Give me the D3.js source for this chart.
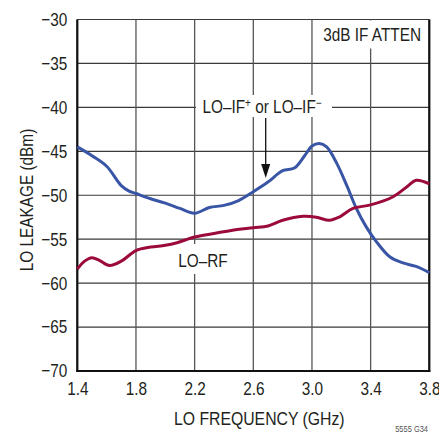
<!DOCTYPE html>
<html><head><meta charset="utf-8">
<script src="https://cdn.jsdelivr.net/npm/d3@7"></script>
<style>
html,body{margin:0;padding:0;background:#fff;}
svg text{font-family:"Liberation Sans Narrow","Arial Narrow","Liberation Sans",Arial,sans-serif;fill:#231f20;}
</style></head>
<body><svg id="c" width="439" height="435"></svg>
<script>
// ---- data ----
const xTicks = [1.4, 1.8, 2.2, 2.6, 3.0, 3.4, 3.8];
const xTickLabels = ["1.4", "1.8", "2.2", "2.6", "3.0", "3.4", "3.8"];
const yTicks = [-30, -35, -40, -45, -50, -55, -60, -65, -70];
const yTickLabels = ["\u221230", "\u221235", "\u221240", "\u221245", "\u221250", "\u221255", "\u221260", "\u221265", "\u221270"];

const ifFreq = [1.40, 1.50, 1.60, 1.70, 1.75, 1.80, 1.90, 2.00, 2.10, 2.20, 2.30, 2.40, 2.50, 2.60, 2.70, 2.80, 2.88, 2.95, 3.00, 3.05, 3.10, 3.17, 3.24, 3.30, 3.37, 3.44, 3.53, 3.62, 3.71, 3.80];
const ifLeak = [-44.5, -45.5, -46.7, -48.9, -49.5, -49.8, -50.4, -50.9, -51.5, -52.05, -51.4, -51.15, -50.6, -49.6, -48.5, -47.2, -46.9, -45.5, -44.4, -44.1, -44.5, -46.4, -49.0, -51.4, -53.6, -55.3, -57.0, -57.7, -58.1, -58.8];

const rfFreq = [1.40, 1.45, 1.50, 1.55, 1.62, 1.70, 1.80, 1.90, 2.00, 2.08, 2.20, 2.35, 2.45, 2.60, 2.70, 2.80, 2.94, 3.03, 3.12, 3.19, 3.28, 3.40, 3.55, 3.65, 3.71, 3.80];
const rfLeak = [-58.4, -57.5, -57.1, -57.4, -58.0, -57.5, -56.3, -55.9, -55.7, -55.4, -54.75, -54.3, -54.0, -53.7, -53.5, -52.85, -52.4, -52.5, -52.85, -52.45, -51.5, -51.1, -50.2, -49.0, -48.3, -48.7];

const xTitle = "LO FREQUENCY (GHz)";
const yTitle = "LO LEAKAGE (dBm)";

// ---- layout ----
const svg = d3.select("#c");
const L = 77.3, R = 429.3, T = 19.5, B = 371;
const x = d3.scaleLinear().domain([1.4, 3.8]).range([L, R]);
const y = d3.scaleLinear().domain([-70, -30]).range([B, T]);
const SQ = 0.83; // horizontal condensing to mimic a narrow typeface

// grid
const g = svg.append("g");
g.selectAll(".hg").data(yTicks).join("line")
  .attr("x1", L).attr("x2", R).attr("y1", d => y(d)).attr("y2", d => y(d))
  .attr("stroke", "#3a3a3a").attr("stroke-width", 1.2);
g.selectAll(".vg").data(xTicks).join("line")
  .attr("y1", T).attr("y2", B).attr("x1", d => x(d)).attr("x2", d => x(d))
  .attr("stroke", "#555").attr("stroke-width", 1.3);

// white label backgrounds (break the grid)
svg.append("rect").attr("x", 318).attr("y", T + 1).attr("width", 106).attr("height", 28).attr("fill", "#fff");
svg.append("rect").attr("x", 196).attr("y", 95).attr("width", 136).attr("height", 22).attr("fill", "#fff");
svg.append("rect").attr("x", 176).attr("y", 244).attr("width", 56).attr("height", 30).attr("fill", "#fff");

// axes frame
svg.append("line").attr("x1", L).attr("x2", L).attr("y1", T).attr("y2", B + 1).attr("stroke", "#111").attr("stroke-width", 2.2);
svg.append("line").attr("x1", L - 1).attr("x2", R + 1).attr("y1", B).attr("y2", B).attr("stroke", "#111").attr("stroke-width", 2.2);
svg.append("line").attr("x1", R).attr("x2", R).attr("y1", T).attr("y2", B + 1).attr("stroke", "#111").attr("stroke-width", 2.2);

// axes labels via d3 axes (no lines)
const xAxis = svg.append("g").attr("transform", `translate(0,${B})`)
  .call(d3.axisBottom(x).tickValues(xTicks).tickFormat((d, i) => xTickLabels[i]).tickSize(0).tickPadding(11));
xAxis.select(".domain").remove();
xAxis.selectAll("text").attr("font-size", 18.5).attr("fill", "#231f20");

const yAxis = svg.append("g").attr("transform", `translate(${L},0)`)
  .call(d3.axisLeft(y).tickValues(yTicks).tickFormat(d => yTickLabels[yTicks.indexOf(d)]).tickSize(0).tickPadding(10));
yAxis.select(".domain").remove();
yAxis.selectAll("text").attr("font-size", 18.5).attr("fill", "#231f20");
svg.selectAll(".tick text").attr("font-family", null);

svg.append("text").attr("x", (L + R) / 2 + 6).attr("y", 424.5).attr("text-anchor", "middle")
  .attr("font-size", 19).text(xTitle);
svg.append("text").attr("transform", "translate(33,200) rotate(-90)").attr("text-anchor", "middle")
  .attr("font-size", 18.5).text(yTitle);

// condense the axis texts
svg.selectAll("text").each(function () {
  const w = this.getComputedTextLength();
  d3.select(this).attr("textLength", w * SQ).attr("lengthAdjust", "spacingAndGlyphs");
});

// curves
const line = d3.line().x(d => x(d[0])).y(d => y(d[1])).curve(d3.curveCatmullRom.alpha(0.5));
svg.append("path").datum(ifFreq.map((f, i) => [f, ifLeak[i]]))
  .attr("d", line).attr("fill", "none").attr("stroke", "#3955a5").attr("stroke-width", 3).attr("stroke-linejoin", "round");
svg.append("path").datum(rfFreq.map((f, i) => [f, rfLeak[i]]))
  .attr("d", line).attr("fill", "none").attr("stroke", "#9b0a3a").attr("stroke-width", 3).attr("stroke-linejoin", "round");

// arrow
svg.append("line").attr("x1", 265.7).attr("x2", 265.7).attr("y1", 118).attr("y2", 166).attr("stroke", "#111").attr("stroke-width", 1.3);
svg.append("path").attr("d", "M261.2,164 L270.2,164 L265.7,178 Z").attr("fill", "#111");

// annotations (condensed via a horizontal scale on their groups)
function label(px, py, anchor, size) {
  return svg.append("g").attr("transform", `translate(${px},${py}) scale(${SQ},1)`)
    .append("text").attr("x", 0).attr("y", 0).attr("text-anchor", anchor).attr("font-size", size);
}
label(421, 40.5, "end", 18.5).text("3dB IF ATTEN");
label(203, 266.5, "middle", 18.5).text("LO\u2013RF");
const t2 = label(262, 112.5, "middle", 18.5);
t2.append("tspan").text("LO\u2013IF");
t2.append("tspan").attr("dy", -6).attr("font-size", 12).text("+");
t2.append("tspan").attr("dy", 6).text(" or LO\u2013IF");
t2.append("tspan").attr("dy", -6).attr("font-size", 12).text("\u2212");
label(428, 432, "end", 9).style("fill", "#555").text("5555 G34");
</script></body></html>
